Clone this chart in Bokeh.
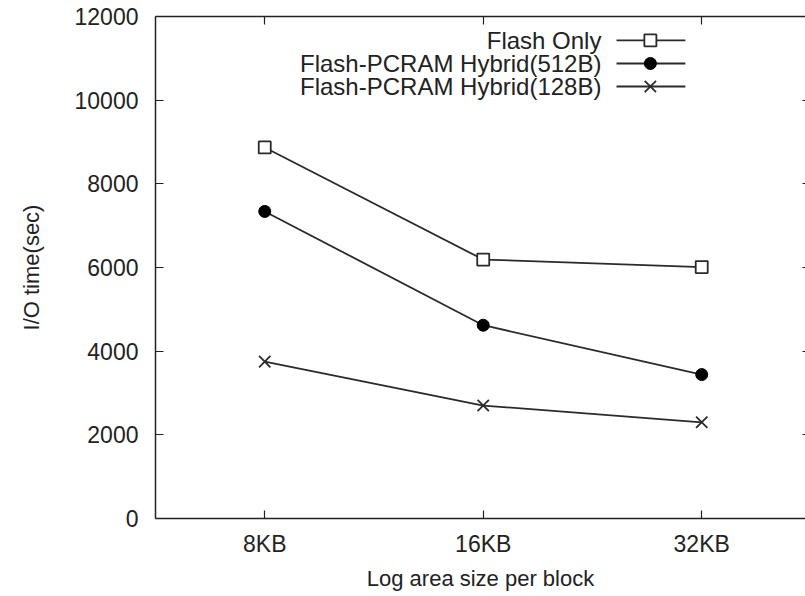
from bokeh.plotting import figure
from bokeh.models import FixedTicker, LinearAxis, Range1d
from bokeh.core.properties import value
from bokeh.embed import file_html
from bokeh.resources import INLINE

# ---- data ----
categories = ["8KB", "16KB", "32KB"]
flash_only = [8870, 6190, 6010]
hybrid_512 = [7340, 4620, 3440]
hybrid_128 = [3750, 2700, 2300]
series_names = ["Flash Only", "Flash-PCRAM Hybrid(512B)", "Flash-PCRAM Hybrid(128B)"]
y_ticks = [0, 2000, 4000, 6000, 8000, 10000, 12000]

FONT = "Liberation Sans"
INK = "#222222"
LINE = "#2a2a2a"

xs = list(range(len(categories)))

p = figure(width=805, height=596, output_backend="svg", toolbar_location=None,
           x_range=Range1d(-0.5, 2.475), y_range=Range1d(0, 12000),
           min_border_left=155, min_border_top=16, min_border_right=0,
           min_border_bottom=78)
p.outline_line_color = None
p.grid.visible = False
p.background_fill_color = "white"
p.border_fill_color = "white"

# axes styling
for ax in (p.xaxis[0], p.yaxis[0]):
    ax.axis_line_color = INK
    ax.axis_line_width = 1.5
    ax.major_tick_line_color = INK
    ax.major_tick_line_width = 1.2
    ax.major_tick_in = 8
    ax.major_tick_out = 0
    ax.minor_tick_line_color = None
    ax.major_label_text_font = FONT
    ax.major_label_text_font_size = "23px"
    ax.major_label_text_color = INK
    ax.axis_label_text_font = FONT
    ax.axis_label_text_font_size = "22px"
    ax.axis_label_text_font_style = "normal"
    ax.axis_label_text_color = INK

p.xaxis.ticker = FixedTicker(ticks=xs)
p.xaxis.major_label_overrides = {i: c for i, c in enumerate(categories)}
p.xaxis.axis_label = "Log area size per block"
p.xaxis.major_label_standoff = 12
p.xaxis.axis_label_standoff = 6

p.yaxis.ticker = FixedTicker(ticks=y_ticks)
p.yaxis.axis_label = "I/O time(sec)"
p.yaxis.major_label_standoff = 17
p.yaxis.axis_label_standoff = 28

# top border with inward ticks (no labels)
top = LinearAxis(ticker=FixedTicker(ticks=xs), axis_line_color=INK, axis_line_width=1.5,
                 major_tick_in=8, major_tick_out=0, major_tick_line_color=INK,
                 major_tick_line_width=1.2, minor_tick_line_color=None,
                 major_label_overrides={i: "" for i in xs}, major_label_standoff=0)
p.add_layout(top, "above")

# right border ticks (the border itself lies just outside the picture)
right = LinearAxis(ticker=FixedTicker(ticks=y_ticks), axis_line_color=None,
                   major_tick_in=3, major_tick_out=0, major_tick_line_color=INK,
                   major_tick_line_width=1.2, minor_tick_line_color=None,
                   major_label_overrides={t: "" for t in y_ticks}, major_label_standoff=0)
p.add_layout(right, "right")

# series
p.line(xs, flash_only, line_color=LINE, line_width=1.8)
p.scatter(xs, flash_only, marker="square", size=12, fill_color="white",
          line_color=LINE, line_width=1.8)
p.line(xs, hybrid_512, line_color=LINE, line_width=1.8)
p.scatter(xs, hybrid_512, marker="circle", size=12, fill_color="black",
          line_color="black")
p.line(xs, hybrid_128, line_color=LINE, line_width=1.8)
p.scatter(xs, hybrid_128, marker="x", size=16, line_color=LINE, line_width=1.8)

# manual gnuplot-style legend (text on the left, sample on the right)
leg_text_x = 1.541
leg_x0, leg_x1, leg_xm = 1.610, 1.925, 1.765
leg_y = [11427, 10877, 10327]
p.text(x=[leg_text_x] * 3, y=leg_y, text=series_names, text_align="right",
       text_baseline="middle", text_font=value(FONT), text_font_size="24px",
       text_color=INK)
p.segment(x0=[leg_x0] * 3, y0=leg_y, x1=[leg_x1] * 3, y1=leg_y,
          line_color=LINE, line_width=1.8)
p.scatter([leg_xm], [leg_y[0]], marker="square", size=12, fill_color="white",
          line_color=LINE, line_width=1.8)
p.scatter([leg_xm], [leg_y[1]], marker="circle", size=12, fill_color="black",
          line_color="black")
p.scatter([leg_xm], [leg_y[2]], marker="x", size=16, line_color=LINE, line_width=1.8)

open("out.html", "w").write(file_html(p, INLINE))
